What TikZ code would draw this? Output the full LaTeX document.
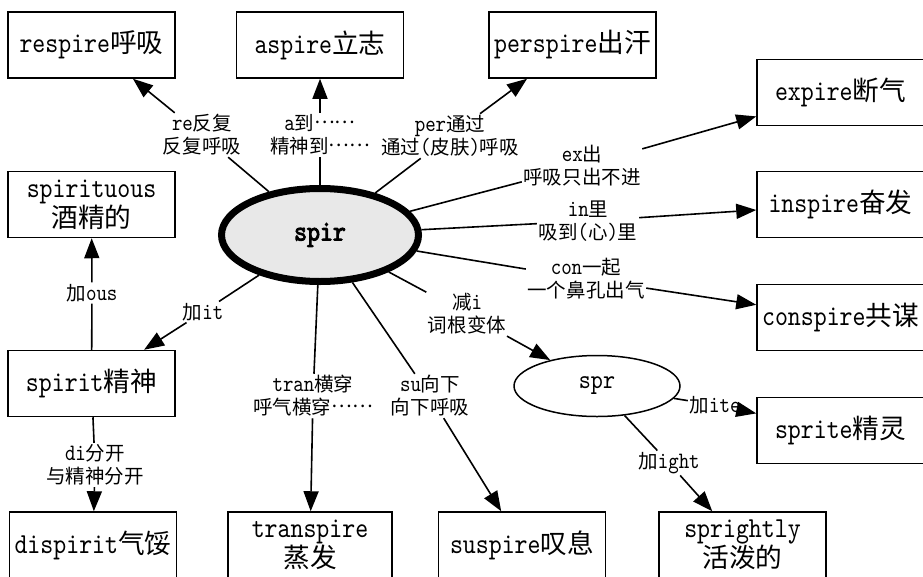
\documentclass[tikz,border=0pt]{standalone}
\usepackage{fontspec}
\usetikzlibrary{arrows.meta,shapes.geometric}
\setmonofont{lmmono10-regular.otf}[FakeStretch=0.85, BoldFont=lmmono10-regular.otf, BoldFeatures={FakeBold=3}]
\newfontfamily\zhA{Noto Sans CJK SC}[Scale=0.92]
\newfontfamily\zhB{Noto Sans CJK SC}[Scale=0.83]
\let\zhcur\zhA
\newcommand\zh[1]{{\zhcur #1}}
\newcommand\zhdots{\raisebox{0.3em}{\zh{……}}}
\newcommand\boxfont{\ttfamily\fontsize{29}{30}\selectfont\let\zhcur\zhA}
\newcommand\labfont{\ttfamily\fontsize{23.5}{23}\selectfont\let\zhcur\zhB}
\definecolor{spirfill}{HTML}{E8E8E8}
\tikzset{
  box/.style={draw, line width=1.5pt, minimum width=167pt, minimum height=66pt,
    inner sep=0pt, align=center, font=\boxfont},
  lab/.style={align=center, font=\labfont, inner sep=1.5pt},
  ln/.style={line width=1.6pt},
  arr/.style={line width=1.6pt, -{Triangle[length=20pt,width=15pt]}},
}
\begin{document}
\begin{tikzpicture}[x=1pt,y=-1pt]
\useasboundingbox (0,0) rectangle (923,576);
% boxes
\node[box] (respire) at (91.5,45) {respire\zh{呼吸}};
\node[box] (aspire) at (320,45) {aspire\zh{立志}};
\node[box] (perspire) at (572.5,45) {perspire\zh{出汗}};
\node[box] (expire) at (840.5,92.5) {expire\zh{断气}};
\node[box] (inspire) at (840.5,204.5) {inspire\zh{奋发}};
\node[box] (conspire) at (840.5,317.5) {conspire\zh{共谋}};
\node[box] (sprite) at (840.5,430.5) {sprite\zh{精灵}};
\node[box] (spirituous) at (91.5,204.5) {spirituous\\\zh{酒精的}};
\node[box] (spirit) at (91.5,383.5) {spirit\zh{精神}};
\node[box] (dispirit) at (93,545) {dispirit\zh{气馁}};
\node[box, minimum width=164pt] (transpire) at (310,545) {transpire\\\zh{蒸发}};
\node[box] (suspire) at (522,545) {suspire\zh{叹息}};
\node[box] (sprightly) at (742.5,545) {sprightly\\\zh{活泼的}};
% ellipses
\node[ellipse, draw, line width=7pt, fill=spirfill, minimum width=197pt, minimum height=93pt,
  inner sep=0pt, font=\ttfamily\bfseries\fontsize{29}{30}\selectfont] (spir) at (320,235) {spir};
\node[ellipse, draw, line width=1.5pt, minimum width=166pt, minimum height=61pt,
  inner sep=0pt, font=\ttfamily\fontsize{27}{28}\selectfont] (spr) at (597,386) {spr};
% labels
\node[lab] (lre) at (202,135) {re\zh{反复}\\\zh{反复呼吸}};
\node[lab] (la) at (320,135) {a\zh{到}\zhdots\\\zh{精神到}\zhdots};
\node[lab] (lper) at (450,136) {per\zh{通过}\\\zh{通过}(\zh{皮肤})\zh{呼吸}};
\node[lab] (lex) at (582,166) {ex\zh{出}\\\zh{呼吸只出不进}};
\node[lab] (lin) at (588,221) {in\zh{里}\\\zh{吸到}(\zh{心})\zh{里}};
\node[lab] (lcon) at (586,279) {con\zh{一起}\\\zh{一个鼻孔出气}};
\node[lab] (lsub) at (467,314) {\zh{减}i\\\zh{词根变体}};
\node[lab] (lsu) at (430,396) {su\zh{向下}\\\zh{向下呼吸}};
\node[lab] (ltran) at (313,396) {tran\zh{横穿}\\\zh{呼气横穿}\zhdots};
\node[lab] (lit) at (203,312) {\zh{加}it};
\node[lab] (lous) at (92,293) {\zh{加}ous};
\node[lab] (ldi) at (95,465) {di\zh{分开}\\\zh{与精神分开}};
\node[lab] (lite) at (715,405) {\zh{加}ite};
\node[lab] (light) at (669,463) {\zh{加}ight};
% connectors
\draw[ln] (spir) -- (lre);   \draw[arr] (lre) -- (respire);
\draw[ln] (spir) -- (la);    \draw[arr] (la) -- (aspire);
\draw[ln] (spir) -- (lper);  \draw[arr] (lper) -- (perspire);
\draw[ln] (spir) -- (lex);   \draw[arr] (lex) -- (expire);
\draw[ln] (spir) -- (lin);   \draw[arr] (lin) -- (inspire);
\draw[ln] (spir) -- (lcon);  \draw[arr] (lcon) -- (conspire);
\draw[ln] (spir) -- (lsub);  \draw[arr] (lsub) -- (spr);
\draw[ln] (spir) -- (lsu);   \draw[arr] (lsu) -- (suspire);
\draw[ln] (spir) -- (ltran); \draw[arr] (ltran) -- (transpire);
\draw[ln] (spir) -- (lit);   \draw[arr] (lit) -- (spirit);
\draw[ln] (spirit) -- (lous); \draw[arr] (lous) -- (spirituous);
\draw[ln] (spirit) -- (ldi); \draw[arr] (ldi) -- (dispirit);
\draw[ln] (spr) -- (lite);   \draw[arr] (lite) -- (sprite);
\draw[ln] (spr) -- (light);  \draw[arr] (light) -- (sprightly);
\end{tikzpicture}
\end{document}
